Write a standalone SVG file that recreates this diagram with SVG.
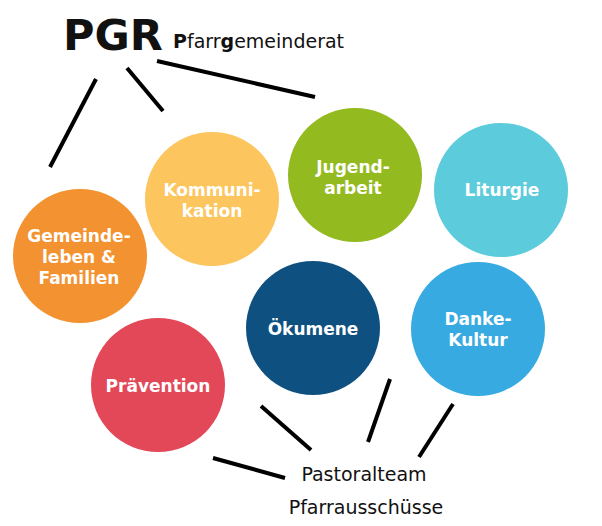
<svg xmlns="http://www.w3.org/2000/svg" width="602" height="526" viewBox="0 0 602 526">
<style>
.lbl{font-family:"DejaVu Sans","Verdana",sans-serif;font-weight:bold;font-size:17px;fill:#ffffff;text-anchor:middle}
.con line{stroke:#000;stroke-width:4;stroke-linecap:butt}
.bot{font-family:"DejaVu Sans","Verdana",sans-serif;font-size:19px;fill:#111;text-anchor:middle}
</style>
<rect width="602" height="526" fill="#ffffff"/>
<g id="title">
<text x="63" y="50" font-family="DejaVu Sans, Verdana, sans-serif" font-weight="bold" font-size="43" fill="#111">PGR</text>
<text x="173" y="48" font-family="DejaVu Sans, Verdana, sans-serif" font-size="19" fill="#111"><tspan font-weight="bold">P</tspan>farr<tspan font-weight="bold">g</tspan>emeinderat</text>
</g>
<g class="con" id="connectors">
<line x1="96" y1="79" x2="50" y2="167"/>
<line x1="127" y1="68" x2="163" y2="111"/>
<line x1="157" y1="61" x2="315" y2="97"/>
<line x1="213" y1="458" x2="285" y2="478"/>
<line x1="261" y1="406" x2="311" y2="450"/>
<line x1="390" y1="379" x2="368" y2="442"/>
<line x1="453" y1="404" x2="419" y2="457"/>
</g>
<g id="gemeinde">
<circle cx="80" cy="256" r="67" fill="#F39231"/>
<text class="lbl" x="79" y="242">Gemeinde-</text>
<text class="lbl" x="79" y="263">leben &amp;</text>
<text class="lbl" x="79" y="284">Familien</text>
</g>
<g id="kommunikation">
<circle cx="212" cy="199" r="67" fill="#FCC55E"/>
<text class="lbl" x="212" y="196">Kommuni-</text>
<text class="lbl" x="212" y="217">kation</text>
</g>
<g id="jugend">
<circle cx="355" cy="175" r="67" fill="#93BA1E"/>
<text class="lbl" x="353" y="173">Jugend-</text>
<text class="lbl" x="353" y="194">arbeit</text>
</g>
<g id="liturgie">
<circle cx="501" cy="190" r="67" fill="#5CCBDB"/>
<text class="lbl" x="502" y="196">Liturgie</text>
</g>
<g id="oekumene">
<circle cx="313" cy="328" r="67" fill="#0E5180"/>
<text class="lbl" x="313" y="335">Ökumene</text>
</g>
<g id="danke">
<circle cx="478" cy="329" r="67" fill="#37ABE1"/>
<text class="lbl" x="478" y="325">Danke-</text>
<text class="lbl" x="478" y="346">Kultur</text>
</g>
<g id="praevention">
<circle cx="158" cy="385" r="67" fill="#E24858"/>
<text class="lbl" x="158" y="392">Prävention</text>
</g>
<g id="bottom">
<text class="bot" x="364" y="481">Pastoralteam</text>
<text class="bot" x="366" y="514">Pfarrausschüsse</text>
</g>
</svg>
